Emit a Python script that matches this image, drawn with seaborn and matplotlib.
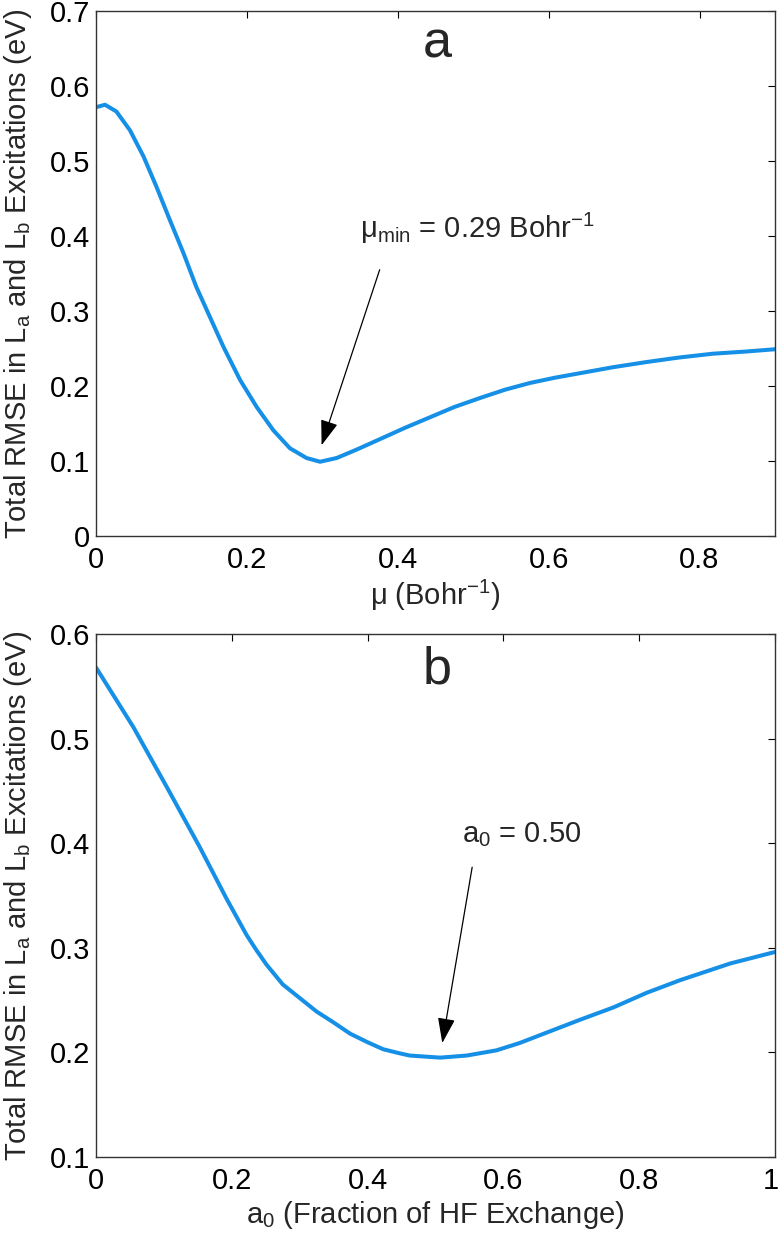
import matplotlib
matplotlib.use("Agg")
import matplotlib.pyplot as plt
import matplotlib.transforms as mtransforms
import seaborn as sns
import pandas as pd

# ---- data ----
mu_x = [0.001, 0.012, 0.027, 0.045, 0.063, 0.080, 0.098, 0.116, 0.133, 0.151, 0.169,
        0.191, 0.213, 0.235, 0.257, 0.279, 0.297, 0.319, 0.345, 0.376, 0.409, 0.442,
        0.475, 0.509, 0.542, 0.575, 0.608, 0.641, 0.685, 0.730, 0.773, 0.817, 0.862, 0.9]
mu_rmse = [0.572, 0.575, 0.566, 0.541, 0.506, 0.466, 0.421, 0.377, 0.332, 0.292, 0.252,
           0.208, 0.172, 0.141, 0.117, 0.104, 0.099, 0.104, 0.115, 0.129, 0.144, 0.158,
           0.172, 0.184, 0.195, 0.204, 0.211, 0.217, 0.225, 0.232, 0.238, 0.243, 0.246, 0.249]

a0_x = [0.0, 0.055, 0.104, 0.153, 0.193, 0.222, 0.236, 0.251, 0.275, 0.300, 0.325, 0.349,
        0.374, 0.399, 0.423, 0.448, 0.462, 0.507, 0.546, 0.590, 0.624, 0.664, 0.712,
        0.762, 0.811, 0.860, 0.897, 0.934, 1.0]
a0_rmse = [0.568, 0.511, 0.454, 0.396, 0.346, 0.312, 0.298, 0.284, 0.265, 0.252, 0.239, 0.229,
           0.218, 0.210, 0.203, 0.199, 0.197, 0.195, 0.197, 0.202, 0.209, 0.219, 0.231,
           0.243, 0.257, 0.269, 0.277, 0.285, 0.296]

top_xticks = [0, 0.2, 0.4, 0.6, 0.8]
top_yticks = [0, 0.1, 0.2, 0.3, 0.4, 0.5, 0.6, 0.7]
bot_xticks = [0, 0.2, 0.4, 0.6, 0.8, 1.0]
bot_yticks = [0.1, 0.2, 0.3, 0.4, 0.5, 0.6]

sns.set_theme(style="white")
plt.rcParams['font.family'] = ['Liberation Sans', 'DejaVu Sans']
plt.rcParams['mathtext.fontset'] = 'custom'
plt.rcParams['mathtext.rm'] = 'Liberation Sans'
plt.rcParams['mathtext.it'] = 'Liberation Sans:italic'

LINE = '#1590e6'
FS = 21
ylab = r'Total RMSE in L$_\mathregular{a}$ and L$_\mathregular{b}$ Excitations (eV)'

fig = plt.figure(figsize=(7.78, 12.37), dpi=100)
ax1 = fig.add_axes([96/778, 1 - 536/1237, (775-96)/778, (536-11)/1237])
ax2 = fig.add_axes([96/778, 1 - 1157/1237, (775-96)/778, (1157-634)/1237])

df1 = pd.DataFrame({'x': mu_x, 'y': mu_rmse})
df2 = pd.DataFrame({'x': a0_x, 'y': a0_rmse})
sns.lineplot(data=df1, x='x', y='y', ax=ax1, color=LINE, lw=2.9)
sns.lineplot(data=df2, x='x', y='y', ax=ax2, color=LINE, lw=2.9)

def fmt(v):
    if v == 0:
        return '0'
    if v == 1:
        return '1'
    return '%.1f' % v

def style(ax, xt, yt, xl, yl):
    ax.set_xlim(xl)
    ax.set_ylim(yl)
    ax.set_xticks(xt)
    ax.set_yticks(yt)
    ax.set_xticklabels([fmt(v) for v in xt])
    ax.set_yticklabels([fmt(v) for v in yt])
    ax.tick_params(direction='in', length=5, width=0.8, top=True, right=True,
                   labelsize=FS, colors='black', pad=4)
    ax.tick_params(axis='x', pad=7)
    for s in ax.spines.values():
        s.set_color('#333333')
        s.set_linewidth(1.0)

style(ax1, top_xticks, top_yticks, (0, 0.9), (0, 0.7))
style(ax2, bot_xticks, bot_yticks, (0, 1.0), (0.1, 0.6))

# keep the right-most "1" inside the figure
last = ax2.get_xticklabels()[-1]
last.set_transform(last.get_transform() +
                   mtransforms.ScaledTranslation(-4/100, 0, fig.dpi_scale_trans))

ax1.set_xlabel('μ (Bohr$^{\\mathregular{-1}}$)', fontsize=FS)
ax2.set_xlabel(r'a$_\mathregular{0}$ (Fraction of HF Exchange)', fontsize=FS)
ax1.xaxis.set_label_coords(0.5, -0.080)
ax2.xaxis.set_label_coords(0.5, -0.080)
ax1.set_ylabel(ylab, fontsize=FS)
ax2.set_ylabel(ylab, fontsize=FS)
ax1.yaxis.set_label_coords(-0.092, 0.5)
ax2.yaxis.set_label_coords(-0.092, 0.5)

ax1.text(0.502, 0.912, 'a', transform=ax1.transAxes, fontsize=37.5, ha='center', va='baseline')
ax2.text(0.502, 0.906, 'b', transform=ax2.transAxes, fontsize=37.5, ha='center', va='baseline')

arrowprops = dict(arrowstyle='-|>,head_length=1.3,head_width=0.45', color='black', lw=0.9,
                  shrinkA=0, shrinkB=0)
ax1.text((360-96)/755, (536-238)/750, 'μ$_\\mathregular{min}$ = 0.29 Bohr$^{\\mathregular{-1}}$',
         fontsize=FS, ha='left', va='baseline')
ax1.annotate('', xy=(0.299, 0.121), xytext=(0.376, 0.355), arrowprops=arrowprops)

ax2.text((462-96)/679, 0.1 + (1157-842)/1046, r'a$_\mathregular{0}$ = 0.50',
         fontsize=FS, ha='left', va='baseline')
ax2.annotate('', xy=(0.510, 0.209), xytext=(0.554, 0.377), arrowprops=arrowprops)

fig.savefig('out.png', dpi=100)
